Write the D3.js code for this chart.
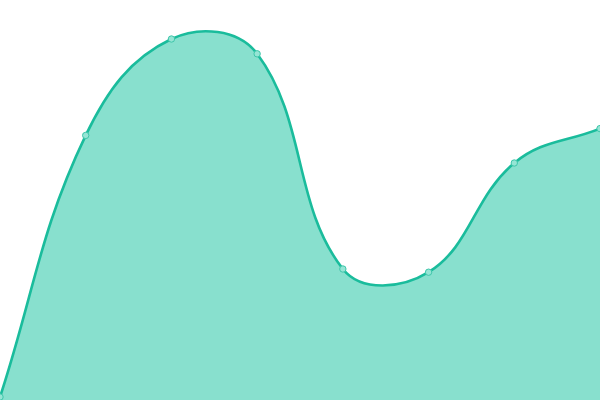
<!DOCTYPE html>
<html><head><meta charset="utf-8">
<script src="https://cdn.jsdelivr.net/npm/d3@7"></script>
<style>html,body{margin:0;padding:0;background:#fff;overflow:hidden}</style>
</head><body>
<svg id="c" width="600" height="400"></svg>
<script>
const categories = [0, 1, 2, 3, 4, 5, 6, 7];
const values = [0, 65.4, 89.5, 85.8, 32, 31.2, 58.5, 67.1];

const W = 600, H = 400;
const svg = d3.select("#c");
const x = d3.scalePoint().domain(categories).range([0, W]);
const y = d3.scaleLinear().domain([0, 100]).range([397, -3]);
const pts = categories.map((c, i) => [x(c), y(values[i])]);

// spline with tension 0.4 (distance-weighted control points), built with d3.path
function splinePath(p, tension, ctx) {
  const n = p.length;
  const cps = p.map((cur, i) => {
    const prev = p[i - 1] || cur, next = p[i + 1] || cur;
    const d01 = Math.hypot(cur[0] - prev[0], cur[1] - prev[1]);
    const d12 = Math.hypot(next[0] - cur[0], next[1] - cur[1]);
    let s01 = d01 / (d01 + d12), s12 = d12 / (d01 + d12);
    if (!isFinite(s01)) s01 = 0; if (!isFinite(s12)) s12 = 0;
    const fa = tension * s01, fb = tension * s12;
    const cl = v => Math.max(0, Math.min(H, v));
    return {
      px: Math.max(0, Math.min(W, cur[0] - fa * (next[0] - prev[0]))),
      py: cl(cur[1] - fa * (next[1] - prev[1])),
      nx: Math.max(0, Math.min(W, cur[0] + fb * (next[0] - prev[0]))),
      ny: cl(cur[1] + fb * (next[1] - prev[1]))
    };
  });
  ctx.moveTo(p[0][0], p[0][1]);
  for (let i = 1; i < n; i++) {
    ctx.bezierCurveTo(cps[i - 1].nx, cps[i - 1].ny, cps[i].px, cps[i].py, p[i][0], p[i][1]);
  }
  return ctx;
}

const areaPath = splinePath(pts, 0.4, d3.path());
areaPath.lineTo(pts[pts.length - 1][0], H);
areaPath.lineTo(pts[0][0], H);
areaPath.closePath();
svg.append("path").attr("d", areaPath.toString()).attr("fill", "#88e0ce");

svg.append("path").attr("d", splinePath(pts, 0.4, d3.path()).toString())
  .attr("fill", "none").attr("stroke", "#1abc9c").attr("stroke-width", 2.6);

svg.selectAll("circle").data(pts).join("circle")
  .attr("cx", d => d[0]).attr("cy", d => d[1]).attr("r", 3.2)
  .attr("fill", "#96e5d5").attr("stroke", "#3ec6aa").attr("stroke-width", 1);
</script>
</body></html>
